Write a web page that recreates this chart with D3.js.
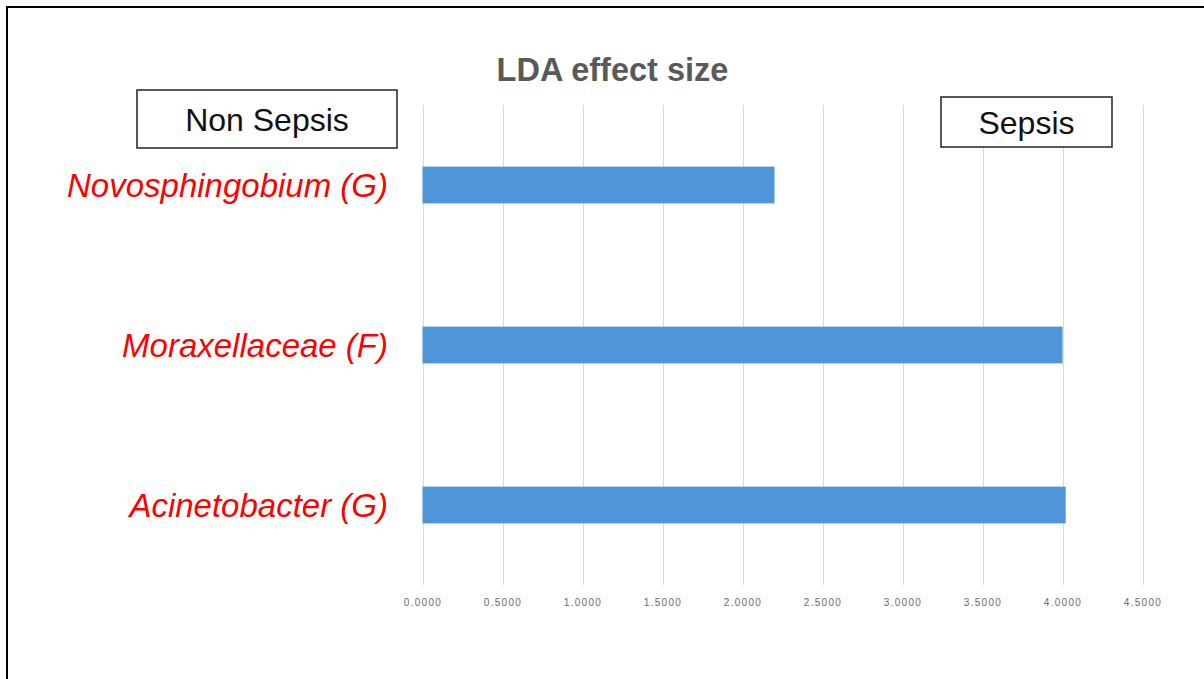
<!DOCTYPE html>
<html>
<head>
<meta charset="utf-8">
<script src="https://cdn.jsdelivr.net/npm/d3@7"></script>
<style>
  body { margin: 0; background: #fff; }
  svg { display: block; font-family: "Liberation Sans", Arial, sans-serif; }
  .g-axis text { fill: #6b6b6b; font-size: 10px; letter-spacing: 1.3px; }
  .g-axis .domain { display: none; }
  .grid line { stroke: #d9d9d9; stroke-width: 1; }
  .cat-label { fill: #ff0000; font-style: italic; font-size: 33px; }
  .legend-box { fill: #fff; stroke: #222; stroke-width: 1.5; }
  .legend-text { fill: #111; font-size: 32px; }
</style>
</head>
<body>
<div id="chart"></div>
<script>
// data
const categories = ['Novosphingobium (G)', 'Moraxellaceae (F)', 'Acinetobacter (G)']
const ldaValues = [2.20, 4.00, 4.02]
const tickValues = [0, 0.5, 1, 1.5, 2, 2.5, 3, 3.5, 4, 4.5]
const groupLabels = ['Non Sepsis', 'Sepsis']

const width = 1204
const height = 679
const plotLeft = 422.5
const plotRight = 1142.5
const plotTop = 105
const plotBottom = 585
const barColor = '#4f95d9'

const data = categories.map((c, i) => ({ label: c, value: ldaValues[i] }))

const $svg = d3.select('#chart').append('svg')
  .attr('width', width)
  .attr('height', height)

// frame (top + left only)
$svg.append('path')
  .attr('d', `M7,${height} L7,7 L${width},7`)
  .attr('fill', 'none')
  .attr('stroke', '#000')
  .attr('stroke-width', 2)

// scales
const scaleX = d3.scaleLinear()
  .domain([0, 4.5])
  .range([plotLeft, plotRight])

const scaleY = d3.scaleBand()
  .domain(categories)
  .range([plotTop, plotBottom])
  .paddingInner(0.77)
  .paddingOuter(0.385)

// gridlines
$svg.append('g')
  .attr('class', 'grid')
  .selectAll('line')
  .data(tickValues)
  .enter()
  .append('line')
  .attr('x1', d => Math.round(scaleX(d)) + 0.5)
  .attr('x2', d => Math.round(scaleX(d)) + 0.5)
  .attr('y1', plotTop)
  .attr('y2', plotBottom)

// axis
const $axis = $svg.append('g')
  .attr('class', 'g-axis')
  .attr('transform', `translate(0, ${plotBottom})`)
  .call(d3.axisBottom(scaleX)
    .tickValues(tickValues)
    .tickSize(0)
    .tickPadding(14)
    .tickFormat(d3.format('.4f'))
  )
$axis.attr('font-family', null).attr('font-size', null)

// bars
$svg.append('g')
  .attr('class', 'g-vis')
  .selectAll('.bar')
  .data(data)
  .enter()
  .append('rect')
  .attr('class', 'bar')
  .attr('x', scaleX(0))
  .attr('y', d => scaleY(d.label))
  .attr('width', d => scaleX(d.value) - scaleX(0))
  .attr('height', scaleY.bandwidth())
  .attr('fill', barColor)

// category labels
$svg.append('g')
  .selectAll('.cat-label')
  .data(data)
  .enter()
  .append('text')
  .attr('class', 'cat-label')
  .attr('x', 388)
  .attr('y', d => scaleY(d.label) + scaleY.bandwidth() / 2 + 11.5)
  .attr('text-anchor', 'end')
  .text(d => d.label)

// title
$svg.append('text')
  .attr('x', 612.5)
  .attr('y', 81)
  .attr('text-anchor', 'middle')
  .style('font-size', '32.5px')
  .style('font-weight', 700)
  .style('fill', '#595959')
  .text('LDA effect size')

// group boxes
const boxes = [
  { label: groupLabels[0], x: 137, y: 90, w: 260, h: 58 },
  { label: groupLabels[1], x: 941, y: 97, w: 171, h: 50 }
]
const $boxes = $svg.append('g')
  .selectAll('g')
  .data(boxes)
  .enter()
  .append('g')
$boxes.append('rect')
  .attr('class', 'legend-box')
  .attr('x', d => d.x)
  .attr('y', d => d.y)
  .attr('width', d => d.w)
  .attr('height', d => d.h)
$boxes.append('text')
  .attr('class', 'legend-text')
  .attr('x', d => d.x + d.w / 2)
  .attr('y', d => d.y + d.h / 2 + 11.5)
  .attr('text-anchor', 'middle')
  .text(d => d.label)
</script>
</body>
</html>
